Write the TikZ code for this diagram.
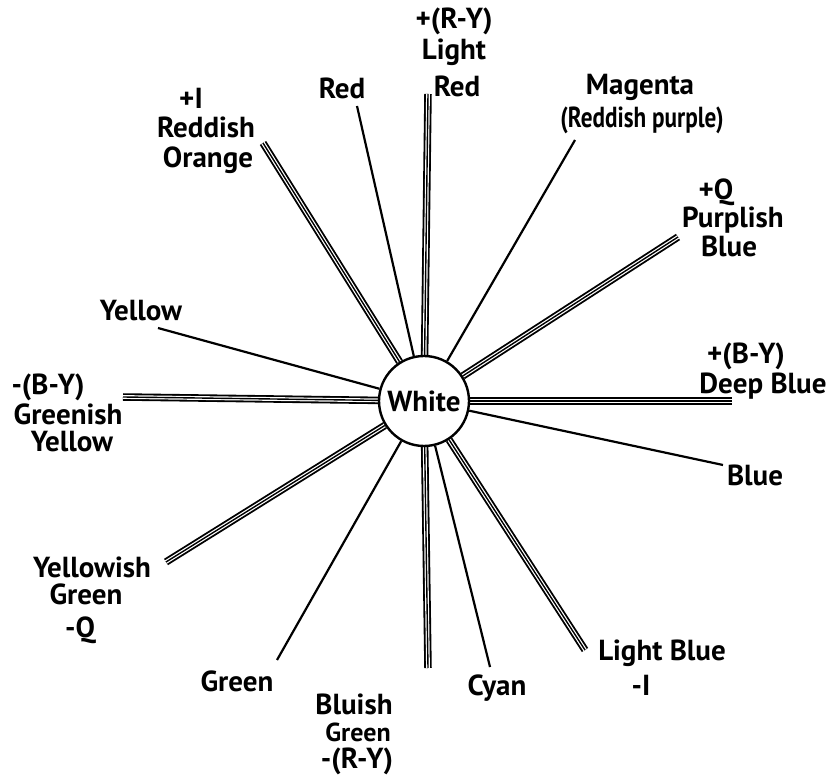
\documentclass[tikz,border=0pt]{standalone}
\usepackage{fontspec}
\setmainfont{PT Sans}
\usetikzlibrary{backgrounds}
\begin{document}
\begin{tikzpicture}[x=1pt,y=1pt,
  lab/.style={font=\bfseries\fontsize{29}{32}\selectfont, anchor=base, inner sep=0pt},
  smalllab/.style={lab, font=\bfseries\fontsize{26}{29}\selectfont},
  thinline/.style={draw=black, line width=2.2pt},
  tripleline/.style={draw=black, line width=7.5pt,
     postaction={draw=white, line width=3.8pt},
     postaction={draw=black, line width=1.4pt}},
  hub/.style={circle, draw=black, line width=2.4pt, fill=white, minimum size=90pt, inner sep=0pt,
     font=\bfseries\fontsize{29}{32}\selectfont}]
\useasboundingbox (0,0) rectangle (827,777);
\node[hub] (c) at (424,376) {White};

% free ends
\coordinate (ryp) at (428,683);
\coordinate (rym) at (428,109);
\coordinate (byl) at (123,380);
\coordinate (byr) at (732,376);
\coordinate (ip) at (263,634);
\coordinate (im) at (585,127);
\coordinate (qp) at (678,540);
\coordinate (qm) at (166,215);
\coordinate (red) at (357,671);
\coordinate (mag) at (575,637);
\coordinate (yel) at (158,449);
\coordinate (blu) at (723,312);
\coordinate (grn) at (277,117);
\coordinate (cya) at (490,110);

\begin{pgfonlayer}{background}
\draw[tripleline] (c) -- (ryp);
\draw[tripleline] (c) -- (rym);
\draw[tripleline] (c) -- (byl);
\draw[tripleline] (c) -- (byr);
\draw[tripleline] (c) -- (ip);
\draw[tripleline] (c) -- (im);
\draw[tripleline] (c) -- (qp);
\draw[tripleline] (c) -- (qm);
\draw[thinline] (c) -- (red);
\draw[thinline] (c) -- (mag);
\draw[thinline] (c) -- (yel);
\draw[thinline] (c) -- (blu);
\draw[thinline] (c) -- (grn);
\draw[thinline] (c) -- (cya);
\end{pgfonlayer}

% labels
\node[lab] (t1) at (454,748) {+(R-Y)};
\node[lab] (t2) at (454,717) {Light};
\node[lab] (t3) at (457,680) {Red};
\node[lab] (l1) at (342,678) {Red};
\node[lab] (o1) at (191,668) {+I};
\node[lab] (o2) at (206,639) {Reddish};
\node[lab] (o3) at (208,609) {Orange};
\node[lab] (m1) at (640,682) {Magenta};
\node[lab, xscale=0.8] (m2) at (642,649) {(Reddish purple)};
\node[lab] (p1) at (716,577) {+Q};
\node[lab] (p2) at (733,549) {Purplish};
\node[lab] (p3) at (729,520) {Blue};
\node[lab] (y1) at (141,456) {Yellow};
\node[lab] (d1) at (746,413) {+(B-Y)};
\node[lab] (d2) at (763,383) {Deep Blue};
\node[lab] (g1) at (48,382) {-(B-Y)};
\node[lab] (g2) at (68,352) {Greenish};
\node[lab] (g3) at (72,325) {Yellow};
\node[lab] (b1) at (755,291) {Blue};
\node[lab] (k1) at (92,200) {Yellowish};
\node[lab] (k2) at (86,173) {Green};
\node[lab] (k3) at (80,140) {-Q};
\node[lab] (lb1) at (662,117) {Light Blue};
\node[lab] (lb2) at (641,82) {-I};
\node[lab] (gr1) at (237,86) {Green};
\node[lab] (bg1) at (354,63) {Bluish};
\node[smalllab] (bg2) at (358,36) {Green};
\node[lab] (bg3) at (357,9) {-(R-Y)};
\node[lab] (cy1) at (497,82) {Cyan};
\end{tikzpicture}
\end{document}
